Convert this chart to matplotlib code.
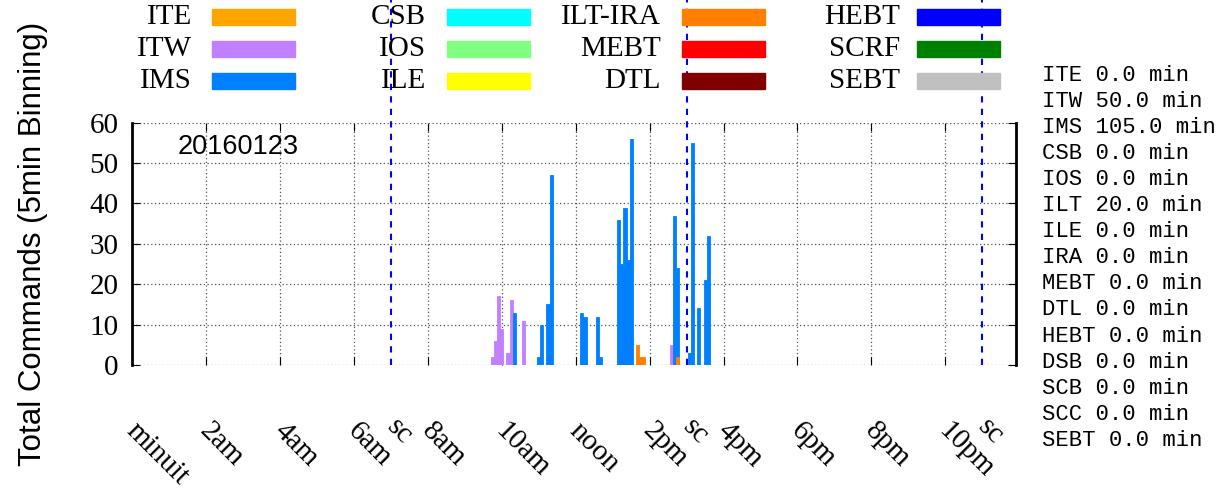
import matplotlib
matplotlib.use("Agg")
import matplotlib.pyplot as plt
from matplotlib.patches import Rectangle

# commands per 5 min bin, bin centre time (HH:MM) and count
itw_times = ["09:45", "09:50", "09:55", "10:00", "10:10", "10:15", "10:35", "14:35"]
itw_counts = [2, 6, 17, 9, 3, 16, 11, 5]

ims_times = ["10:20", "11:00", "11:05", "11:15", "11:20", "12:10", "12:15", "12:35",
             "12:40", "13:10", "13:15", "13:20", "13:25", "13:30", "14:40", "14:45",
             "15:05", "15:10", "15:20", "15:30", "15:35"]
ims_counts = [13, 2, 10, 15, 47, 13, 12, 12, 2, 36, 25, 39, 26, 56, 37, 24, 3, 55, 14, 21, 32]

iltira_times = ["13:40", "13:45", "13:50", "14:45"]
iltira_counts = [5, 2, 2, 2]

shift_changes = ["07:00", "15:00", "23:00"]

legend_names = ["ITE", "ITW", "IMS", "CSB", "IOS", "ILE",
                "ILT-IRA", "MEBT", "DTL", "HEBT", "SCRF", "SEBT"]
legend_colors = ["#ffa500", "#c080ff", "#0080ff", "#00ffff", "#80ff80", "#ffff00",
                 "#ff8000", "#ff0000", "#800000", "#0000ff", "#008000", "#c0c0c0"]

summary_names = ["ITE", "ITW", "IMS", "CSB", "IOS", "ILT", "ILE", "IRA",
                 "MEBT", "DTL", "HEBT", "DSB", "SCB", "SCC", "SEBT"]
summary_minutes = [0.0, 50.0, 105.0, 0.0, 0.0, 20.0, 0.0, 0.0,
                   0.0, 0.0, 0.0, 0.0, 0.0, 0.0, 0.0]

tick_hours = [0, 2, 4, 6, 8, 10, 12, 14, 16, 18, 20, 22]
tick_labels = ["minuit", "2am", "4am", "6am", "8am", "10am", "noon",
               "2pm", "4pm", "6pm", "8pm", "10pm"]
date_label = "20160123"


def to_hours(t):
    h, m = t.split(":")
    return int(h) + int(m) / 60.0


W, H = 1222, 490
fig = plt.figure(figsize=(W / 100, H / 100), dpi=100)
ax = fig.add_axes([132.4 / W, 1 - 365 / H, (1016 - 132.4) / W, (365 - 122.7) / H])

serif = "Liberation Serif"
bw = 5 / 60.0
for times, counts, col in [(itw_times, itw_counts, "#c080ff"),
                           (ims_times, ims_counts, "#0080ff"),
                           (iltira_times, iltira_counts, "#ff8000")]:
    ax.bar([to_hours(t) for t in times], counts, width=bw, color=col,
           edgecolor=col, linewidth=0.6, zorder=3)

ax.set_xlim(0, to_hours("23:55"))
ax.set_ylim(0, 60)
ax.set_xticks(tick_hours)
ax.set_xticklabels([])
xtr = ax.get_xaxis_transform()
for h, lab in zip(tick_hours, tick_labels):
    ax.annotate(lab, xy=(h, 0), xycoords=xtr, xytext=(5, -38), textcoords="offset points",
                rotation=-45, ha="left", va="top", rotation_mode="anchor",
                family=serif, fontsize=21)
ax.set_yticks(range(0, 61, 10))
ax.set_yticklabels([str(v) for v in range(0, 61, 10)], family=serif, fontsize=21)
ax.tick_params(axis="x", direction="in", length=6, top=True)
ax.tick_params(axis="y", direction="in", length=6, right=True, pad=10)
ax.grid(True, linestyle=(0, (1, 2)), color="#555555", linewidth=0.9, zorder=1)
for s in ["top", "bottom"]:
    ax.spines[s].set_visible(False)
for s in ["left", "right"]:
    ax.spines[s].set_linewidth(2)

ax.set_ylabel("Total Commands (5min Binning)", family="Liberation Sans", fontsize=22.5, labelpad=30)
ax.text(0.051, 0.955, date_label, transform=ax.transAxes, family="Liberation Sans",
        fontsize=19.5, va="top", ha="left")

# shift change lines, reaching up to the top of the figure
ymax = 365 / (365 - 122.7)
for t in shift_changes:
    x = to_hours(t)
    ax.axvline(x, ymin=0, ymax=ymax, color="#0000ff", linestyle=(0, (3, 3)),
               linewidth=1.5, clip_on=False, zorder=4)
    ax.text(x + 0.25, -0.2, "sc", rotation=-45, ha="left", va="top",
            rotation_mode="anchor", family=serif, fontsize=21, transform=xtr)

# legend block drawn by hand (4 columns x 3 rows)
label_right = [192, 426, 661, 900]
swatch_left = [212, 447, 682, 917]
row_y = [17, 49, 81]
for i, (name, col) in enumerate(zip(legend_names, legend_colors)):
    c, r = divmod(i, 3)
    fig.text(label_right[c] / W, 1 - row_y[r] / H, name, ha="right", va="center",
             family=serif, fontsize=21)
    fig.add_artist(Rectangle((swatch_left[c] / W, 1 - (row_y[r] + 8) / H), 83 / W, 16 / H,
                             transform=fig.transFigure, color=col))

# per-system summary on the right
for i, (name, mins) in enumerate(zip(summary_names, summary_minutes)):
    fig.text(1042 / W, 1 - (75 + i * 26.1) / H, f"{name} {mins:.1f} min",
             ha="left", va="center", family="Liberation Mono", fontsize=16)

fig.savefig("out.png", dpi=100)
